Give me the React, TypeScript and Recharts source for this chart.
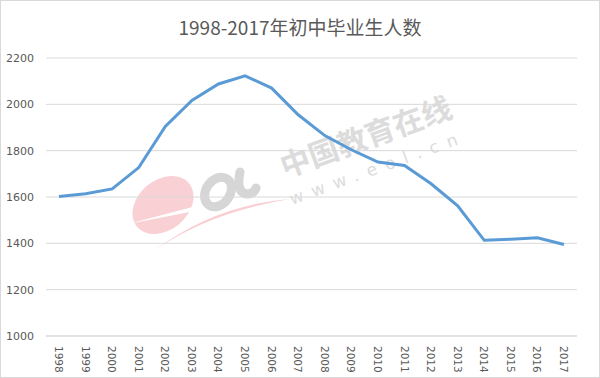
import React from "react";
import { LineChart, Line, XAxis, YAxis, CartesianGrid } from "recharts";

const title = "1998-2017年初中毕业生人数";
const years = ["1998","1999","2000","2001","2002","2003","2004","2005","2006","2007","2008","2009","2010","2011","2012","2013","2014","2015","2016","2017"];
const graduates = [1602,1614,1635,1727,1905,2017,2088,2123,2070,1955,1865,1804,1751,1736,1657,1562,1413,1418,1424,1395];
const yTicks = [1000,1200,1400,1600,1800,2000,2200];

const data = years.map((y, i) => ({ year: y, value: graduates[i] }));

const XTick = (props: any) => {
  const { x, y, payload } = props;
  return (
    <text
      x={0}
      y={0}
      transform={`translate(${x},${y}) rotate(90)`}
      textAnchor="start"
      dominantBaseline="central"
      fontSize={10.5}
      fill="#595959"
      fontFamily="'DejaVu Sans', sans-serif"
    >
      {payload.value}
    </text>
  );
};

const Watermark = () => (
  <svg width={600} height={378} style={{ position: "absolute", left: 0, top: 0 }}>
    <ellipse cx={163} cy={205} rx={25} ry={34} transform="rotate(50 163 205)" fill="#f8c8cc" opacity={0.85} />
    <path d="M 128 224 L 200 205 L 200 210 Z" fill="#fff" />
    <path d="M 155 250 Q 210 212 290 199 Q 215 205 155 250 Z" fill="#f8c8cc" opacity={0.9} />
    <ellipse cx={218} cy={192} rx={12} ry={16} transform="rotate(35 218 192)" fill="none" stroke="#d6d6d6" strokeWidth={9} />
    <path d="M 240 172 Q 236 192 246 194 Q 254 194 256 188" fill="none" stroke="#d6d6d6" strokeWidth={9} strokeLinecap="round" />
    <text x={285} y={178} fontSize={30} fontWeight="bold" fill="#dcdcdc" fontFamily="'Noto Sans CJK SC', sans-serif" transform="rotate(-20 285 178)">中国教育在线</text>
    <text x={292} y={205} fontSize={17} fill="#dcdcdc" letterSpacing={9} fontFamily="'DejaVu Sans', sans-serif" transform="rotate(-20 292 205)">www.eol.cn</text>
  </svg>
);

export default function App() {
  return (
    <div
      style={{
        position: "absolute",
        left: 0,
        top: 0,
        width: 600,
        height: 378,
        boxSizing: "border-box",
        border: "1px solid #d9d9d9",
        background: "#fff",
        overflow: "hidden",
      }}
    >
      <div style={{ position: "absolute", left: -1, top: -1 }}>
        <Watermark />
      </div>
      <div
        style={{
          position: "absolute",
          left: -1,
          top: 12,
          width: 600,
          textAlign: "center",
          fontSize: 19,
          color: "#595959",
          fontFamily: "'Noto Sans CJK SC', sans-serif",
          lineHeight: "28px",
        }}
      >
        {title}
      </div>
      <div style={{ position: "absolute", left: -1, top: -1 }}>
        <LineChart width={600} height={378} data={data} margin={{ top: 58, right: 23, bottom: 0, left: 0 }}>
          <CartesianGrid horizontal vertical={false} stroke="#d9d9d9" />
          <XAxis
            dataKey="year"
            height={42}
            tickLine={false}
            axisLine={{ stroke: "#d9d9d9" }}
            interval={0}
            padding={{ left: 13, right: 13 }}
            tick={<XTick />}
            tickMargin={4}
          />
          <YAxis
            width={46}
            domain={[1000, 2200]}
            ticks={yTicks}
            axisLine={false}
            tickLine={false}
            tickMargin={6}
            tick={{ fontSize: 11, fill: "#595959", fontFamily: "'DejaVu Sans', sans-serif" }}
          />
          <Line
            type="linear"
            dataKey="value"
            stroke="#5b9bd5"
            strokeWidth={3}
            dot={false}
            isAnimationActive={false}
          />
        </LineChart>
      </div>
    </div>
  );
}
